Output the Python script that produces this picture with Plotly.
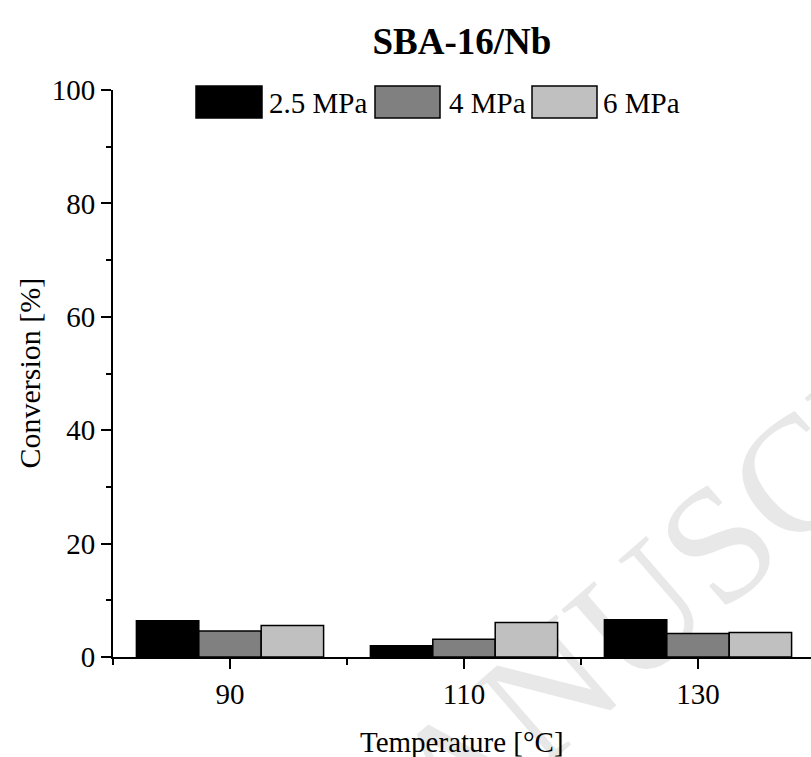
import math
import plotly.graph_objects as go

# Temperatures (categories) and conversion per pressure
temperatures = ["90", "110", "130"]
conv_2_5 = [6.4, 2.0, 6.55]
conv_4 = [4.6, 3.15, 4.15]
conv_6 = [5.55, 6.1, 4.3]
series_names = ["2.5 MPa", "4 MPa", "6 MPa"]
series_colors = ["#000000", "#808080", "#c0c0c0"]

W, H = 811, 757
L, R, T, B = 113, 0, 90, 100
FONT = "Liberation Serif, Times New Roman, serif"
FS = 29

xpos = list(range(len(temperatures)))

fig = go.Figure()
for name, vals, col in zip(series_names, [conv_2_5, conv_4, conv_6], series_colors):
    fig.add_trace(go.Bar(
        x=xpos, y=vals, name=name,
        marker=dict(color=col, line=dict(color="#000000", width=1.5)),
        showlegend=False,
    ))

pw, ph = W - L - R, H - T - B


def px(xp):
    return (xp - L) / pw


def py(yp):
    return (H - B - yp) / ph


shapes = []
annotations = []

# Diagonal watermark, kept beneath the bars
cx, cy, half, ang = 355, 835, 320, math.radians(41)
dx, dy = half * math.cos(ang), half * math.sin(ang)
shapes.append(dict(type="line", xref="paper", yref="paper", layer="below",
                   x0=px(cx - dx), y0=py(cy + dy),
                   x1=px(cx + dx), y1=py(cy - dy),
                   line=dict(color="rgba(0,0,0,0)", width=0),
                   label=dict(text="ACCEPTED MANUSCRIPT", textposition="middle",
                              yanchor="middle", padding=0,
                              font=dict(family=FONT, size=165, color="#e8e8e8"))))

# Hand-built legend with wide swatches
legend_items = [(196, 262, 267), (375, 440, 447), (532, 597, 601)]
for (x0, x1, tx), name, col in zip(legend_items, series_names, series_colors):
    shapes.append(dict(type="rect", xref="paper", yref="paper",
                       x0=px(x0), x1=px(x1), y0=py(118), y1=py(86),
                       fillcolor=col, line=dict(color="#000000", width=1.5)))
    annotations.append(dict(xref="paper", yref="paper", x=px(tx), y=py(103),
                            xanchor="left", yanchor="middle", showarrow=False,
                            text=name, font=dict(family=FONT, size=FS, color="#000000")))

# X-axis title placed explicitly
annotations.append(dict(xref="paper", yref="paper", x=0.5, y=py(742),
                        xanchor="center", yanchor="middle", showarrow=False,
                        text="Temperature [°C]",
                        font=dict(family=FONT, size=FS, color="#000000")))
# Y-axis title placed explicitly
annotations.append(dict(xref="paper", yref="paper", x=px(29), y=0.5,
                        xanchor="center", yanchor="middle", showarrow=False,
                        text="Conversion [%]", textangle=-90,
                        font=dict(family=FONT, size=FS + 1, color="#000000")))

fig.update_layout(
    width=W, height=H,
    margin=dict(l=L, r=R, t=T, b=B, pad=0),
    paper_bgcolor="white", plot_bgcolor="rgba(0,0,0,0)",
    barmode="group", bargap=0.2, bargroupgap=0,
    font=dict(family=FONT, size=FS, color="#000000"),
    title=dict(text="<b>SBA-16/Nb</b>", x=0.5, xref="paper", xanchor="center",
               y=1 - 41 / H, yref="container", yanchor="middle",
               font=dict(family=FONT, size=37, color="#000000")),
    shapes=shapes,
    annotations=annotations,
    xaxis=dict(
        range=[-0.5, -0.5 + pw / 234.0],
        tickmode="array", tickvals=xpos, ticktext=temperatures,
        ticks="outside", ticklen=10, tickwidth=2, tickcolor="#000000",
        showline=True, linecolor="#000000", linewidth=2,
        showgrid=False, zeroline=False,
        minor=dict(tickmode="array", tickvals=[-0.5, 0.5, 1.5, 2.5],
                   ticks="outside", ticklen=6, tickwidth=2, tickcolor="#000000"),
        tickfont=dict(family=FONT, size=FS),
    ),
    yaxis=dict(
        range=[0, 100], tickmode="linear", tick0=0, dtick=20,
        ticks="outside", ticklen=10, tickwidth=2, tickcolor="#000000",
        showline=True, linecolor="#000000", linewidth=2,
        showgrid=False, zeroline=False,
        minor=dict(dtick=10, ticks="outside", ticklen=5, tickwidth=2,
                   tickcolor="#000000"),
        tickfont=dict(family=FONT, size=FS),
    ),
)

fig.write_html("out.html")
